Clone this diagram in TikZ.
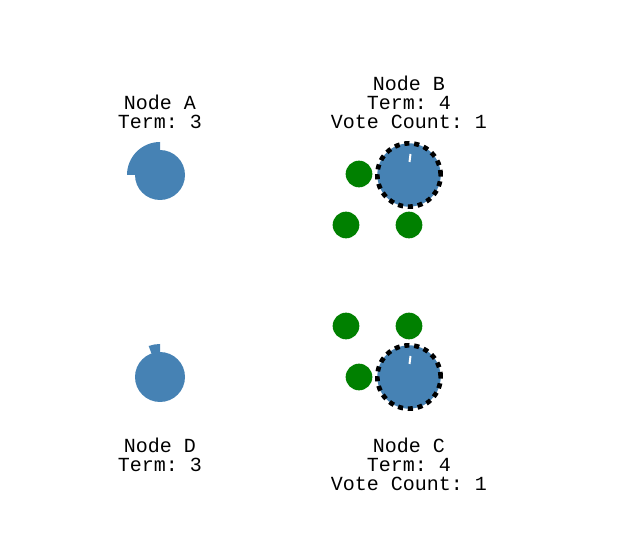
\documentclass[tikz,border=0pt]{standalone}
\usepackage{fontspec}
\setmonofont{Liberation Mono}
\definecolor{serverblue}{RGB}{70,130,180}
\definecolor{msggreen}{RGB}{0,128,0}
\tikzset{
server/.style={shape=circle, fill=serverblue, minimum size=37.5pt, inner sep=0pt},
candidate/.style={shape=circle, fill=serverblue, draw=black, line width=3.5pt,
  dash pattern=on 3.8pt off 3.6pt, minimum size=47.5pt, inner sep=0pt},
message/.style={shape=circle, fill=msggreen, minimum size=20pt, inner sep=0pt},
info/.style={align=center, font=\ttfamily\fontsize{15}{14.25}\selectfont, inner sep=0pt},
timer/.style={fill=serverblue}
}
\begin{document}
\begin{tikzpicture}[x=0.75pt,y=-0.75pt]
    \useasboundingbox (0,0) rectangle (619,542);

                \node[server] (A) at (160,175) {};
                \node[candidate] (B) at (409,175) {};
                \node[candidate] (C) at (409,377) {};
                \node[server] (D) at (160,377) {};

                % election timers
                \fill[timer] (A.center) -- ++(90:24.75pt) arc[start angle=90, end angle=180, radius=24.75pt] -- cycle;
                \fill[timer] (D.center) -- ++(90:24.75pt) arc[start angle=90, end angle=110, radius=24.75pt] -- cycle;
                \draw[white, line width=1.5pt] ([shift={(1.5,-21)}]B.center) -- ([shift={(0.5,-13)}]B.center);
                \draw[white, line width=1.5pt] ([shift={(1.5,-21)}]C.center) -- ([shift={(0.5,-13)}]C.center);

                % vote requests
                \node[message] (B1) at (359,174) {};
                \node[message] (B2) at (346,225) {};
                \node[message] (B3) at (409,225) {};
                \node[message] (C1) at (346,326) {};
                \node[message] (C2) at (409,326) {};
                \node[message] (C3) at (359,377) {};

                \node[info] (A-info) at (160,112) {Node A\\Term: 3};
                \node[info] (B-info) at (409,102) {Node B\\Term: 4\\Vote Count: 1};
                \node[info] (D-info) at (160,455) {Node D\\Term: 3};
                \node[info] (C-info) at (409,464.5) {Node C\\Term: 4\\Vote Count: 1};

\end{tikzpicture}
\end{document}
